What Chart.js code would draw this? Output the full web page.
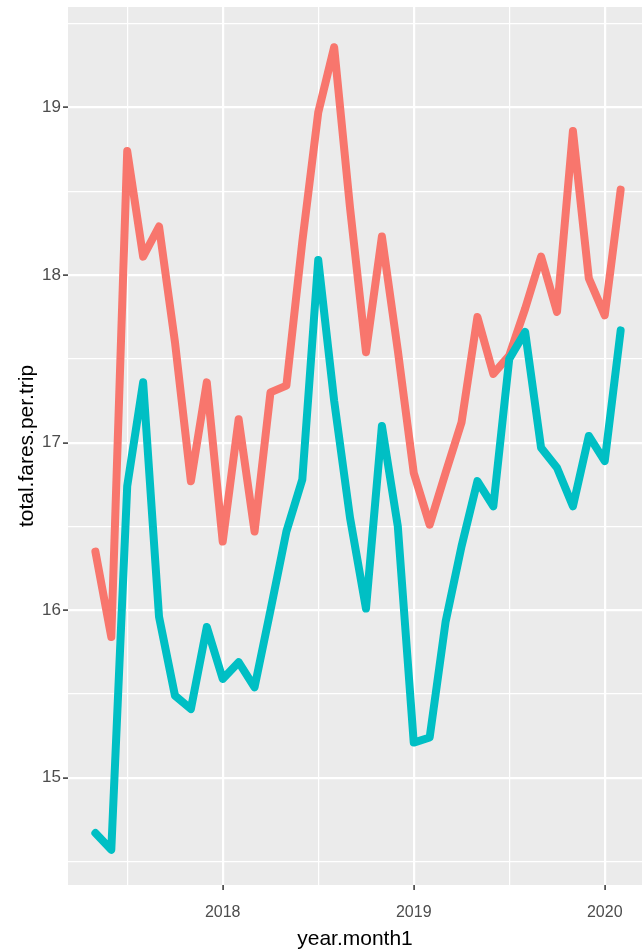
<!DOCTYPE html>
<html>
<head>
<meta charset="utf-8">
<script src="https://cdn.jsdelivr.net/npm/chart.js@4"></script>
<style>
  html, body { margin: 0; padding: 0; background: #ffffff; }
  #wrap { width: 642px; height: 952px; }
</style>
</head>
<body>
<div id="wrap"><canvas id="c" width="642" height="952"></canvas></div>
<script>
// Months (year-month), May 2017 .. Feb 2020
const months = [
  '2017-05','2017-06','2017-07','2017-08','2017-09','2017-10','2017-11','2017-12',
  '2018-01','2018-02','2018-03','2018-04','2018-05','2018-06','2018-07','2018-08',
  '2018-09','2018-10','2018-11','2018-12','2019-01','2019-02','2019-03','2019-04',
  '2019-05','2019-06','2019-07','2019-08','2019-09','2019-10','2019-11','2019-12',
  '2020-01','2020-02'
];
// Red series
const seriesRed = [
  16.35, 15.84, 18.74, 18.11, 18.29, 17.60, 16.77, 17.36,
  16.41, 17.14, 16.47, 17.30, 17.34, 18.20, 18.97, 19.36,
  18.40, 17.54, 18.23, 17.55, 16.82, 16.51, 16.82, 17.12,
  17.75, 17.41, 17.52, 17.80, 18.11, 17.78, 18.86, 17.98,
  17.76, 18.51
];
// Teal series
const seriesTeal = [
  14.67, 14.57, 16.74, 17.36, 15.96, 15.49, 15.41, 15.90,
  15.59, 15.69, 15.54, 16.00, 16.47, 16.78, 18.09, 17.25,
  16.55, 16.01, 17.10, 16.50, 15.21, 15.24, 15.93, 16.38,
  16.77, 16.62, 17.50, 17.66, 16.97, 16.85, 16.62, 17.04,
  16.89, 17.67
];
const xTickLabels = ['2018', '2019', '2020'];
const yTickLabels = ['15', '16', '17', '18', '19'];

const xVals = months.map(s => {
  const [y, m] = s.split('-').map(Number);
  return y + (m - 1) / 12;
});
const toPts = arr => arr.map((v, i) => ({ x: xVals[i], y: v }));

const panelBg = {
  id: 'panelBg',
  beforeDraw(chart) {
    const { ctx, chartArea: a } = chart;
    ctx.save();
    ctx.fillStyle = '#ffffff';
    ctx.fillRect(0, 0, chart.width, chart.height);
    ctx.fillStyle = '#EBEBEB';
    ctx.fillRect(a.left, a.top, a.right - a.left, a.bottom - a.top);
    ctx.restore();
  }
};

const isMajor = (v, labels) => labels.includes(String(Math.round(v * 1000) / 1000));
const FONT = 'Liberation Sans, Arial, sans-serif';

new Chart(document.getElementById('c'), {
  type: 'line',
  data: {
    datasets: [
      {
        label: 'red',
        data: toPts(seriesRed),
        borderColor: '#F8766D',
        borderWidth: 8,
        pointRadius: 0,
        tension: 0,
        borderJoinStyle: 'round',
        borderCapStyle: 'round',
        order: 1
      },
      {
        label: 'teal',
        data: toPts(seriesTeal),
        borderColor: '#00BFC4',
        borderWidth: 8,
        pointRadius: 0,
        tension: 0,
        borderJoinStyle: 'round',
        borderCapStyle: 'round',
        order: 0
      }
    ]
  },
  options: {
    responsive: false,
    animation: false,
    devicePixelRatio: 1,
    layout: { padding: { top: 7, left: 0, right: 0, bottom: 0 } },
    plugins: { legend: { display: false }, tooltip: { enabled: false } },
    scales: {
      x: {
        type: 'linear',
        min: 2017.19,
        max: 2020.195,
        afterFit(scale) {
          scale.height = 67;
          scale.paddingLeft = 0; scale.paddingRight = 0;
        },
        border: { display: false },
        grid: {
          color: '#ffffff',
          lineWidth: c => isMajor(c.tick.value, xTickLabels) ? 2.2 : 1.2,
          tickColor: c => isMajor(c.tick.value, xTickLabels) ? '#333333' : 'rgba(0,0,0,0)',
          tickLength: 5,
          tickWidth: 1.5,
          drawTicks: true
        },
        ticks: {
          stepSize: 0.5,
          includeBounds: false,
          autoSkip: false,
          maxRotation: 0,
          padding: 13,
          color: '#4D4D4D',
          font: { family: FONT, size: 16 },
          callback: v => isMajor(v, xTickLabels) ? String(Math.round(v)) : ''
        },
        title: {
          display: true,
          text: 'year.month1',
          color: '#000000',
          font: { family: FONT, size: 21, lineHeight: 1.2 },
          padding: { top: 0, bottom: 0 }
        }
      },
      y: {
        type: 'linear',
        min: 14.36,
        max: 19.60,
        afterFit(scale) {
          scale.width = 68;
          scale.paddingTop = 0; scale.paddingBottom = 0;
        },
        border: { display: false },
        grid: {
          color: '#ffffff',
          lineWidth: c => isMajor(c.tick.value, yTickLabels) ? 2.2 : 1.2,
          tickColor: c => isMajor(c.tick.value, yTickLabels) ? '#333333' : 'rgba(0,0,0,0)',
          tickLength: 5,
          tickWidth: 1.5,
          drawTicks: true
        },
        ticks: {
          stepSize: 0.5,
          includeBounds: false,
          autoSkip: false,
          padding: 2,
          color: '#4D4D4D',
          font: { family: FONT, size: 17 },
          callback: v => isMajor(v, yTickLabels) ? String(Math.round(v)) : ''
        },
        title: {
          display: true,
          text: 'total.fares.per.trip',
          color: '#000000',
          font: { family: FONT, size: 21, lineHeight: 1.2 },
          padding: { top: 15, bottom: 0 }
        }
      }
    }
  },
  plugins: [panelBg]
});
</script>
</body>
</html>
